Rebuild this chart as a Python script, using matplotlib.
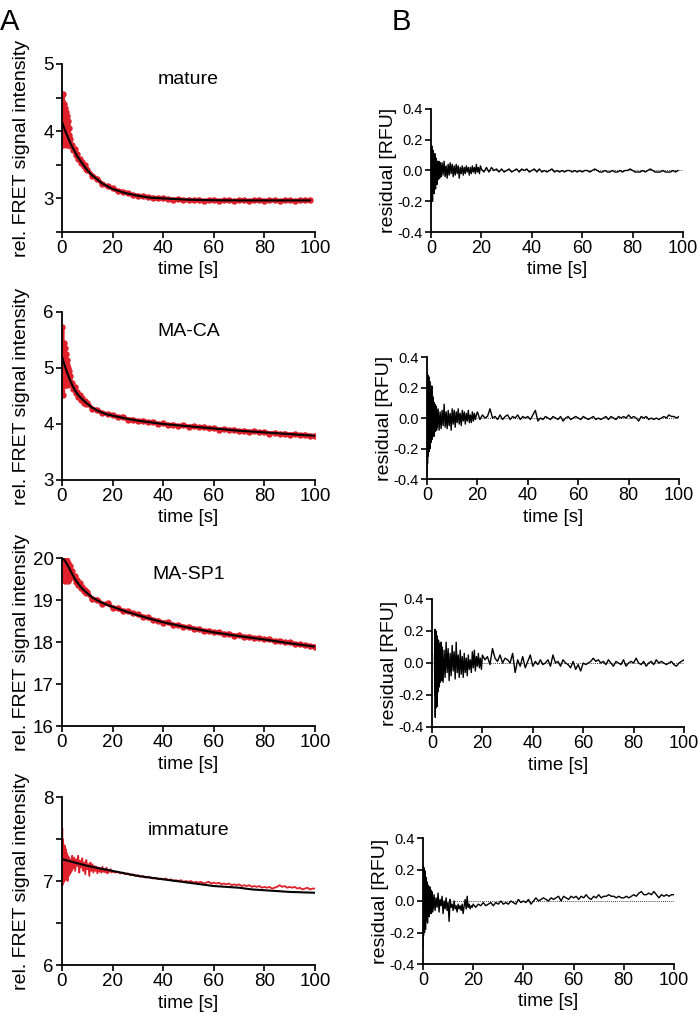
import numpy as np
import matplotlib
matplotlib.use('Agg')
import matplotlib.pyplot as plt

plt.rcParams['font.family'] = ['Liberation Sans', 'DejaVu Sans']
plt.rcParams['axes.unicode_minus'] = False

RED = '#e0202a'

# ---------------- panel titles / labels ----------------
titles = ['mature', 'MA-CA', 'MA-SP1', 'immature']
xticks = [0, 20, 40, 60, 80, 100]
res_yticks = [-0.4, -0.2, 0.0, 0.2, 0.4]
res_yticklabels = ['-0.4', '-0.2', '0.0', '0.2', '0.4']

# ---------------- fit curves (black) ----------------
fit1_t = [0, 1, 2, 3, 4, 5, 6, 8, 10, 12, 14, 16, 18, 20, 25, 30, 35, 40, 50, 60, 70, 80, 90, 98]
fit1_y = [4.14, 4.03, 3.94, 3.85, 3.77, 3.70, 3.63, 3.52, 3.42, 3.34, 3.28, 3.22, 3.18, 3.14,
          3.08, 3.04, 3.01, 3.00, 2.98, 2.973, 2.97, 2.97, 2.97, 2.97]
fit2_t = [0, 1, 2, 3, 4, 5, 6, 8, 10, 12, 14, 16, 18, 20, 25, 30, 35, 40, 50, 60, 70, 80, 90, 100]
fit2_y = [5.20, 5.05, 4.92, 4.80, 4.70, 4.61, 4.54, 4.44, 4.36, 4.29, 4.24, 4.20, 4.17, 4.15,
          4.10, 4.06, 4.03, 4.00, 3.96, 3.92, 3.88, 3.85, 3.82, 3.79]
fit3_t = [0, 1, 2, 3, 4, 5, 6, 8, 10, 12, 14, 16, 18, 20, 25, 30, 35, 40, 50, 60, 70, 80, 90, 100]
fit3_y = [20.0, 19.95, 19.85, 19.74, 19.62, 19.51, 19.42, 19.27, 19.16, 19.06, 18.99, 18.93, 18.88,
          18.84, 18.73, 18.64, 18.55, 18.47, 18.34, 18.23, 18.14, 18.06, 17.97, 17.89]
fit4_t = [0, 5, 10, 15, 20, 25, 30, 35, 40, 45, 50, 55, 60, 65, 70, 75, 80, 85, 90, 95, 100]
fit4_y = [7.26, 7.22, 7.18, 7.15, 7.12, 7.09, 7.06, 7.04, 7.02, 7.00, 6.98, 6.96, 6.94, 6.93,
          6.92, 6.90, 6.89, 6.88, 6.87, 6.865, 6.86]

# ---------------- sampling times of the measured traces ----------------
t_scatter_early = 0.1 * np.arange(30)        # 0.0 .. 2.9 s
t_scatter_early3 = 1.0 + 0.1 * np.arange(20)  # 1.0 .. 2.9 s
t_scatter_mid = 3.0 + 0.5 * np.arange(14)     # 3.0 .. 9.5 s
t_scatter_late = 10.0 + 2.0 * np.arange(46)   # 10 .. 100 s
t_line_early = 0.1 * np.arange(40)            # 0.0 .. 3.9 s
t_line_early3 = 1.0 + 0.1 * np.arange(30)     # 1.0 .. 3.9 s
t_line_mid = 4.0 + 0.4 * np.arange(40)        # 4.0 .. 19.6 s
t_line_late = 20.0 + np.arange(81)            # 20 .. 100 s

# ---------------- measured FRET signal (red) ----------------
sig1_early = [4.05, 4.45, 3.85, 4.55, 3.80, 4.30, 3.95, 4.40, 3.90, 4.25,
              3.82, 4.35, 3.95, 4.20, 3.85, 4.28, 3.90, 4.15, 3.80, 4.22,
              3.92, 4.10, 3.85, 4.15, 3.95, 4.05, 3.80, 4.05, 3.90, 3.95]
sig1_mid = [3.88, 3.78, 3.80, 3.72, 3.74, 3.64, 3.66, 3.58, 3.59, 3.53, 3.54, 3.48, 3.49, 3.44]
sig1_late = [3.43, 3.34, 3.29, 3.21, 3.18, 3.15, 3.11, 3.10, 3.08, 3.05,
             3.04, 3.03, 3.02, 3.01, 3.00, 3.00, 2.99, 2.98, 2.99, 2.97,
             2.98, 2.97, 2.98, 2.96, 2.97, 2.98, 2.96, 2.97, 2.97, 2.96,
             2.97, 2.97, 2.96, 2.97, 2.98, 2.96, 2.97, 2.97, 2.96, 2.97,
             2.97, 2.96, 2.97, 2.97, 2.97]

sig2_early = [5.25, 5.73, 4.85, 5.40, 4.52, 5.30, 4.75, 5.45, 4.90, 5.20,
              4.70, 5.35, 4.85, 5.15, 4.72, 5.25, 4.80, 5.10, 4.70, 5.15,
              4.82, 5.05, 4.75, 5.00, 4.85, 4.95, 4.72, 4.95, 4.78, 4.88]
sig2_mid = [4.85, 4.72, 4.74, 4.62, 4.66, 4.56, 4.58, 4.48, 4.52, 4.43, 4.46, 4.38, 4.41, 4.35]
sig2_late = [4.38, 4.27, 4.25, 4.19, 4.18, 4.16, 4.12, 4.13, 4.08, 4.08,
             4.05, 4.06, 4.03, 4.04, 4.00, 4.01, 3.98, 3.99, 3.96, 3.98,
             3.95, 3.96, 3.94, 3.95, 3.92, 3.93, 3.90, 3.91, 3.89, 3.90,
             3.87, 3.88, 3.86, 3.87, 3.85, 3.86, 3.83, 3.84, 3.82, 3.83,
             3.81, 3.82, 3.80, 3.81, 3.79, 3.79]

sig3_early = [19.95, 19.55, 19.90, 19.45, 19.98, 19.60, 19.85, 19.50, 19.92, 19.55,
              19.80, 19.48, 19.88, 19.60, 19.75, 19.45, 19.82, 19.55, 19.70, 19.50]
sig3_mid = [19.80, 19.62, 19.68, 19.55, 19.58, 19.44, 19.48, 19.36, 19.40, 19.28,
            19.32, 19.22, 19.25, 19.16]
sig3_late = [19.18, 19.02, 19.01, 18.90, 18.92, 18.82, 18.80, 18.74, 18.74, 18.68,
             18.66, 18.60, 18.59, 18.52, 18.51, 18.46, 18.47, 18.40, 18.41, 18.36,
             18.36, 18.32, 18.31, 18.26, 18.27, 18.23, 18.23, 18.19, 18.20, 18.15,
             18.16, 18.12, 18.13, 18.09, 18.10, 18.06, 18.06, 18.02, 18.03, 17.99,
             17.99, 17.95, 17.95, 17.92, 17.91, 17.89]

sig4_early = [7.25, 7.63, 6.95, 7.50, 7.05, 7.45, 6.98, 7.40, 7.10, 7.35,
              7.00, 7.42, 7.08, 7.30, 7.02, 7.38, 7.12, 7.28, 7.05, 7.33,
              7.10, 7.25, 7.00, 7.30, 7.12, 7.22, 7.06, 7.28, 7.14, 7.20,
              7.08, 7.26, 7.12, 7.22, 7.10, 7.25, 7.14, 7.20, 7.12, 7.24]
sig4_mid = [7.30, 7.15, 7.28, 7.12, 7.26, 7.18, 7.30, 7.10, 7.24, 7.16,
            7.27, 7.12, 7.22, 7.08, 7.25, 7.14, 7.20, 7.06, 7.22, 7.12,
            7.20, 7.10, 7.18, 7.12, 7.17, 7.09, 7.16, 7.11, 7.15, 7.10,
            7.17, 7.11, 7.14, 7.10, 7.16, 7.09, 7.13, 7.11, 7.14, 7.10]
sig4_late = [7.12, 7.10, 7.11, 7.09, 7.10, 7.08, 7.09, 7.07, 7.08, 7.06,
             7.07, 7.05, 7.06, 7.04, 7.05, 7.04, 7.03, 7.04, 7.02, 7.03,
             7.02, 7.03, 7.01, 7.02, 7.00, 7.01, 7.00, 7.01, 6.99, 7.00,
             6.99, 7.00, 6.98, 6.99, 6.98, 6.99, 6.97, 6.98, 6.99, 6.97,
             6.98, 6.97, 6.98, 6.96, 6.97, 6.96, 6.97, 6.95, 6.96, 6.95,
             6.96, 6.94, 6.95, 6.94, 6.95, 6.93, 6.94, 6.93, 6.94, 6.92,
             6.93, 6.92, 6.93, 6.91, 6.92, 6.93, 6.95, 6.93, 6.94, 6.92,
             6.93, 6.92, 6.93, 6.91, 6.92, 6.90, 6.91, 6.92, 6.90, 6.91, 6.91]

# ---------------- residuals (black, panel B) ----------------
res1_early = [-0.23, 0.15, -0.18, 0.16, -0.12, 0.14, -0.20, 0.12, -0.10, 0.13,
              -0.08, 0.10, -0.15, 0.08, -0.06, 0.11, -0.09, 0.07, -0.12, 0.06,
              -0.05, 0.08, -0.07, 0.05, -0.09, 0.06, -0.04, 0.05, -0.06, 0.04,
              -0.05, 0.06, -0.03, 0.04, -0.05, 0.03, -0.04, 0.05, -0.02, 0.03]
res1_mid = [-0.04, 0.05, -0.03, 0.06, -0.04, 0.03, -0.05, 0.04, -0.03, 0.05,
            -0.02, 0.04, -0.04, 0.03, -0.03, 0.04, -0.02, 0.03, -0.05, 0.02,
            -0.02, 0.03, -0.03, 0.02, -0.02, 0.03, -0.01, 0.02, -0.03, 0.02,
            -0.02, 0.03, -0.01, 0.02, -0.02, 0.04, -0.01, 0.02, -0.02, 0.03]
res1_late = [0.01, -0.01, 0.02, -0.01, 0.02, 0.00, 0.01, -0.01, 0.01, -0.01,
             0.00, 0.01, -0.01, 0.00, 0.01, -0.01, 0.01, 0.00, 0.01, -0.01,
             0.00, 0.01, -0.01, 0.01, -0.01, 0.00, -0.01, 0.00, 0.01, -0.01,
             0.00, -0.01, 0.00, -0.01, 0.00, 0.00, -0.01, 0.00, -0.01, 0.00,
             -0.01, 0.00, 0.00, -0.01, 0.00, 0.01, 0.00, -0.01, -0.01, 0.00,
             -0.01, -0.01, 0.00, -0.01, -0.01, 0.00, -0.01, 0.00, 0.00, 0.01,
             0.00, -0.01, -0.01, -0.01, 0.00, -0.01, 0.00, 0.01, 0.00, -0.01,
             -0.01, -0.01, 0.00, -0.01, -0.01, -0.01, 0.00, -0.01, 0.00]

res2_early = [-0.38, 0.30, -0.30, 0.22, -0.25, 0.28, -0.18, 0.27, -0.22, 0.20,
              -0.15, 0.24, -0.20, 0.15, -0.12, 0.18, -0.16, 0.12, -0.10, 0.21,
              -0.14, 0.10, -0.12, 0.14, -0.08, 0.12, -0.10, 0.08, -0.12, 0.10,
              -0.07, 0.09, -0.09, 0.06, -0.08, 0.08, -0.06, 0.07, -0.08, 0.05]
res2_mid = [-0.06, 0.06, -0.08, 0.04, -0.07, 0.05, -0.05, 0.09, -0.06, 0.04,
            -0.07, 0.05, -0.05, 0.03, -0.08, 0.06, -0.04, 0.05, -0.06, 0.04,
            -0.03, 0.06, -0.04, 0.03, -0.05, 0.05, -0.02, 0.04, -0.04, 0.03,
            -0.02, 0.05, -0.03, 0.02, -0.03, 0.04, -0.02, 0.03, -0.01, 0.02]
res2_late = [0.04, -0.01, 0.02, 0.00, 0.01, 0.06, 0.00, 0.01, -0.01, 0.02,
             -0.01, 0.01, 0.02, -0.01, 0.01, 0.00, 0.02, -0.01, 0.01, 0.00,
             0.01, -0.01, 0.02, 0.05, -0.02, 0.00, -0.01, 0.01, 0.00, -0.01,
             0.01, 0.00, -0.01, 0.01, -0.02, 0.00, 0.01, -0.01, 0.00, 0.01,
             0.00, -0.01, 0.01, 0.00, -0.01, 0.00, 0.01, -0.01, 0.00, -0.01,
             0.00, 0.01, -0.01, 0.01, 0.00, -0.01, 0.01, 0.00, 0.01, 0.00,
             0.02, 0.00, 0.01, 0.00, -0.02, 0.01, 0.00, 0.01, -0.01, 0.00,
             -0.01, 0.00, -0.01, 0.00, 0.01, 0.00, 0.02, 0.01, 0.01, 0.00, 0.01]

res3_early = [0.05, -0.20, 0.21, -0.34, 0.18, -0.15, 0.20, -0.28, 0.12, -0.10,
              0.17, -0.27, 0.15, -0.12, 0.10, -0.18, 0.14, -0.08, 0.12, -0.15,
              0.08, -0.10, 0.11, -0.12, 0.07, -0.09, 0.13, -0.07, 0.09, -0.11]
res3_mid = [0.10, -0.12, 0.08, -0.09, 0.13, -0.06, 0.09, -0.11, 0.06, -0.08,
            0.11, -0.05, 0.07, -0.10, 0.13, -0.06, 0.05, -0.09, 0.08, -0.07,
            0.04, -0.09, 0.06, -0.06, 0.03, -0.08, 0.05, -0.04, 0.02, -0.06,
            0.07, -0.03, 0.08, -0.05, 0.04, -0.02, 0.06, -0.03, 0.03, -0.04]
res3_late = [0.05, 0.02, 0.04, -0.01, 0.09, 0.03, 0.01, 0.05, 0.00, 0.03,
             0.02, 0.00, 0.06, -0.06, 0.02, -0.02, 0.04, -0.03, 0.01, 0.05,
             -0.02, 0.01, -0.01, 0.02, -0.01, 0.00, 0.02, -0.02, 0.05, 0.00,
             0.01, -0.02, 0.02, 0.00, -0.01, -0.03, 0.01, -0.04, -0.01, -0.05,
             0.00, -0.01, 0.00, 0.01, 0.03, 0.01, 0.02, 0.00, 0.01, -0.01,
             0.02, 0.00, -0.02, 0.01, 0.00, -0.01, 0.02, -0.02, 0.00, 0.01,
             0.00, 0.03, 0.00, -0.01, 0.01, -0.02, 0.00, 0.01, -0.01, 0.02,
             0.00, 0.01, 0.00, -0.01, 0.00, 0.01, -0.01, -0.02, 0.00, 0.01, 0.02]

res4_early = [-0.30, 0.22, -0.22, 0.18, -0.15, 0.21, -0.20, 0.12, -0.10, 0.19,
              -0.18, 0.10, -0.08, 0.15, -0.12, 0.08, -0.10, 0.12, -0.14, 0.06,
              -0.08, 0.10, -0.06, 0.08, -0.10, 0.06, -0.05, 0.09, -0.07, 0.04,
              -0.06, 0.07, -0.08, 0.03, -0.05, 0.06, -0.04, 0.05, -0.07, 0.02]
res4_mid = [-0.05, 0.04, -0.06, 0.02, -0.04, 0.05, -0.07, 0.01, -0.03, 0.03,
            -0.08, 0.00, -0.05, 0.02, -0.06, -0.01, -0.13, 0.01, -0.04, -0.02,
            -0.06, 0.00, -0.05, -0.03, -0.07, -0.02, -0.05, -0.03, -0.06, -0.02,
            -0.08, -0.03, 0.01, -0.05, 0.03, -0.04, -0.02, -0.05, -0.03, -0.04]
res4_late = [-0.02, -0.04, -0.02, -0.03, -0.01, -0.03, -0.02, -0.01, -0.03, -0.01,
             -0.02, 0.00, -0.02, -0.01, -0.02, 0.00, -0.01, -0.02, 0.01, -0.01,
             0.00, -0.01, 0.01, -0.02, 0.00, 0.02, 0.00, 0.01, 0.02, 0.01,
             0.00, 0.02, 0.01, 0.02, 0.03, 0.00, 0.03, 0.02, 0.01, 0.03,
             0.02, 0.03, 0.01, 0.03, 0.02, 0.04, 0.02, 0.01, 0.03, 0.02,
             0.04, 0.02, 0.03, 0.03, 0.04, 0.03, 0.03, 0.02, 0.03, 0.02,
             0.02, 0.03, 0.02, 0.03, 0.04, 0.03, 0.05, 0.06, 0.04, 0.04,
             0.05, 0.04, 0.06, 0.04, 0.02, 0.04, 0.03, 0.04, 0.03, 0.04, 0.04]

# ---------------- assemble ----------------
def cat(*parts):
    return np.concatenate([np.asarray(p, dtype=float) for p in parts])

sig_t = [cat(t_scatter_early, t_scatter_mid, t_scatter_late[:len(sig1_late)]),
         cat(t_scatter_early, t_scatter_mid, t_scatter_late),
         cat(t_scatter_early3, t_scatter_mid, t_scatter_late),
         cat(t_line_early, t_line_mid, t_line_late)]
sig_y = [cat(sig1_early, sig1_mid, sig1_late),
         cat(sig2_early, sig2_mid, sig2_late),
         cat(sig3_early, sig3_mid, sig3_late),
         cat(sig4_early, sig4_mid, sig4_late)]
fit_t = [fit1_t, fit2_t, fit3_t, fit4_t]
fit_y = [fit1_y, fit2_y, fit3_y, fit4_y]
res_t = [cat(t_line_early, t_line_mid, t_line_late[:len(res1_late)]),
         cat(t_line_early, t_line_mid, t_line_late),
         cat(t_line_early3, t_line_mid, t_line_late),
         cat(t_line_early, t_line_mid, t_line_late)]
res_y = [cat(res1_early, res1_mid, res1_late),
         cat(res2_early, res2_mid, res2_late),
         cat(res3_early, res3_mid, res3_late),
         cat(res4_early, res4_mid, res4_late)]

ylims = [(2.5, 5), (3, 6), (16, 20), (6, 8)]
yticks = [[2.5, 3, 3.5, 4, 4.5, 5], [3, 4, 5, 6], [16, 17, 18, 19, 20], [6, 6.5, 7, 7.5, 8]]
yticklabels = [['', '3', '', '4', '', '5'], ['3', '4', '5', '6'],
               ['16', '17', '18', '19', '20'], ['6', '', '7', '', '8']]
title_y = [0.905, 0.883, 0.899, 0.80]

# ---------------- layout ----------------
W, H = 700, 1022
fig = plt.figure(figsize=(W / 100, H / 100), dpi=100)

def frac(x0, y0, x1, y1):
    return [x0 / W, 1 - y1 / H, (x1 - x0) / W, (y1 - y0) / H]

a_boxes = [frac(62, 64, 315, 232), frac(62, 312, 315, 480),
           frac(62, 558, 315, 726), frac(62, 797, 315, 965)]
b_boxes = [frac(431, 109, 683, 232), frac(427, 357, 679, 479),
           frac(432, 599, 684, 727), frac(423, 838, 674, 964)]

def style(ax):
    for s in ['top', 'right']:
        ax.spines[s].set_visible(False)
    for s in ['left', 'bottom']:
        ax.spines[s].set_linewidth(1.3)
    ax.tick_params(direction='out', length=4, width=1.2, pad=2)

for i in range(4):
    ax = fig.add_axes(a_boxes[i])
    style(ax)
    if i < 3:
        ax.plot(sig_t[i], sig_y[i], color=RED, lw=3.0, marker='o', ms=3.6,
                mec=RED, mfc=RED, zorder=2, solid_joinstyle='round')
    else:
        ax.plot(sig_t[i], sig_y[i], color=RED, lw=1.3, zorder=2)
    ax.plot(fit_t[i], fit_y[i], color='black', lw=1.5, zorder=3)
    ax.set_xlim(0, 100)
    ax.set_ylim(*ylims[i])
    ax.set_xticks(xticks)
    ax.set_yticks(yticks[i])
    ax.set_yticklabels(yticklabels[i])
    ax.tick_params(labelsize=13.5)
    ax.set_xlabel('time [s]', fontsize=13.5, labelpad=3)
    ax.set_ylabel('rel. FRET signal intensity', fontsize=14)
    ax.yaxis.set_label_coords(-0.127, 0.5)
    ax.text(0.5, title_y[i], titles[i], transform=ax.transAxes,
            ha='center', va='center', fontsize=14)

for i in range(4):
    ax = fig.add_axes(b_boxes[i])
    style(ax)
    ax.axhline(0, color='black', lw=0.6, ls=(0, (1, 1.5)), zorder=1)
    ax.plot(res_t[i], res_y[i], color='black', lw=1.0, zorder=2)
    ax.set_xlim(0, 100)
    ax.set_ylim(-0.4, 0.4)
    ax.set_xticks(xticks)
    ax.set_yticks(res_yticks)
    ax.set_yticklabels(res_yticklabels)
    ax.tick_params(axis='x', labelsize=13)
    ax.tick_params(axis='y', labelsize=10.5)
    ax.set_xlabel('time [s]', fontsize=13.5, labelpad=3)
    ax.set_ylabel('residual [RFU]', fontsize=14)
    ax.yaxis.set_label_coords(-0.135, 0.5)

fig.text(0 / W, 1 - 30 / H, 'A', fontsize=21, ha='left', va='baseline')
fig.text(392 / W, 1 - 30 / H, 'B', fontsize=21, ha='left', va='baseline')

fig.savefig('out.png', dpi=100)
